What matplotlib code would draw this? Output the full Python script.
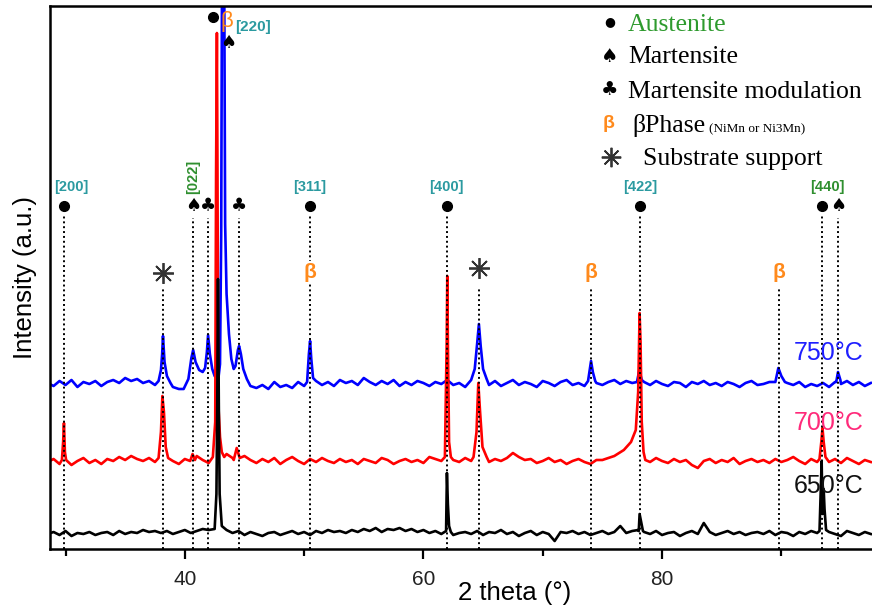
import numpy as np
import matplotlib
matplotlib.use("Agg")
import matplotlib.pyplot as plt
from matplotlib.ticker import MultipleLocator

# background of each scan, 0.5 deg grid, counts above its own baseline
two_theta_bg = np.arange(28.5, 97.51, 0.5)
bg_750 = [1, -2, 3, -1, 4, -3, 2, 0, 3, -2,
          2, 4, 1, 6, 3, 5, 1, 3, -1, 2,
          0, -3, -5, -7, -2, 5, 10, 12, 14, 18,
          20, 15, 12, 6, -2, -4, -1, -5, 2, -3,
          -1, -4, 2, -2, 1, 3, -1, 2, -2, 4,
          1, 3, -1, 6, 2, -1, 3, 0, 4, -2,
          2, -1, 3, 1, -2, 2, 0, 4, -1, 1,
          -3, 2, 8, 4, -1, 3, -2, 1, 4, -1,
          2, 0, -3, 3, 1, -2, 2, 4, -1, 1,
          -2, 3, 1, -1, 2, 4, 0, 3, 1, 5,
          2, -1, 3, 0, -2, 2, 1, -3, 2, 0,
          3, -1, 1, -2, 2, 0, -3, 1, 3, -1,
          0, 2, -2, 3, 1, -1, 2, -3, 0, -2,
          1, -3, 2, 0, 3, -1, 2, -2, 1]
bg_700 = [0, 3, -2, 2, -3, 1, 4, -1, 2, -2,
          3, 1, 5, 2, 6, 3, 1, 4, 0, 8,
          4, 1, -2, 3, 0, 6, 2, -1, 3, 5,
          8, 4, 1, 6, 2, -1, 3, 0, 4, -2,
          2, 5, 1, -2, 3, 0, 4, 1, -1, 3,
          0, 2, -2, 3, 1, -1, 4, 2, -2, 1,
          3, 0, 2, -1, 5, 3, 1, -2, 2, 0,
          4, 1, 6, 2, 0, 3, 1, 4, 9, 5,
          2, 3, -1, 1, 4, 0, 2, -2, 1, 3,
          0, -2, 2, 1, -1, 3, 5, 8, 14, 20,
          3, 0, 4, 1, -1, 3, 0, 2, -3, -6,
          1, 3, -1, 2, 0, 4, -2, 1, 3, 0,
          2, -1, 3, 0, 2, 5, 1, -2, 3, 0,
          2, 0, 3, -1, 4, 1, -2, 2, 0]
bg_650 = [0, 2, -1, 3, -2, 1, 0, 2, -1, 1,
          2, -1, 3, 0, 2, 1, 4, 2, 3, 1,
          3, 0, 2, 4, 1, 3, 5, 4, 6, 8,
          4, 1, 3, -1, 2, 0, -2, 1, 2, -1,
          1, 3, 0, 2, -1, 3, 1, 4, 2, 3,
          1, 4, 2, 5, 3, 6, 2, 5, 4, 6,
          3, 5, 2, 4, 1, 3, 0, 2, -1, 1,
          2, 0, 3, -1, 2, 1, 4, 0, 2, -2,
          1, 3, -1, 2, 0, -7, 2, 1, 3, 0,
          2, -1, 1, 3, 0, 2, 8, 1, 3, 4,
          2, 0, 3, -1, 1, 2, -2, 1, 3, 0,
          11, 2, -1, 1, 3, 0, 2, -1, 1, 2,
          0, 3, -1, 2, 1, -2, 2, 0, 3, 1,
          -1, 2, 0, -2, 3, 1, -1, 2, 0]

# peak profiles: (2theta points, counts above baseline)
peaks_750 = [
    ([37.8, 38.0, 38.1, 38.17, 38.3, 38.5, 38.8], [3, 14, 30, 48, 22, 8, 1]),
    ([39.9, 40.3, 40.55, 40.7, 40.9, 41.2, 41.5], [-5, 5, 26, 34, 22, 14, 12]),
    ([41.7, 41.85, 41.95, 42.1, 42.3, 42.5, 42.8], [16, 32, 49, 30, 15, 8, 4]),
    ([42.95, 43.05, 43.12, 43.3, 43.38, 43.5, 43.7, 43.9, 44.1],
     [20, 150, 420, 420, 160, 90, 50, 25, 15]),
    ([44.25, 44.45, 44.55, 44.7, 44.9, 45.2, 45.5], [18, 34, 38, 30, 15, 5, -2]),
    ([50.25, 50.4, 50.5, 50.6, 50.75], [2, 30, 43, 25, 6]),
    ([64.0, 64.3, 64.5, 64.65, 64.8, 65.0, 65.3], [4, 15, 40, 60, 38, 15, 5]),
    ([73.8, 73.95, 74.05, 74.2, 74.4], [3, 15, 23, 12, 3]),
    ([77.9, 78.1, 78.3], [2, 14, 4]),
    ([89.5, 89.75, 90.0, 90.3], [2, 16, 8, 2]),
    ([94.6, 94.75, 94.95], [2, 12, 4]),
]
peaks_700 = [
    ([29.7, 29.8, 29.87, 29.95, 30.05], [2, 20, 39, 10, 2]),
    ([37.8, 38.0, 38.12, 38.25, 38.4, 38.6], [4, 30, 66, 50, 15, 4]),
    ([40.45, 40.65, 40.85], [1, 8, 2]),
    ([42.35, 42.55, 42.62, 42.69, 42.74, 42.8, 42.95, 43.1, 43.3],
     [5, 40, 288, 429, 288, 60, 25, 10, 5]),
    ([44.1, 44.35, 44.6], [2, 14, 4]),
    ([61.8, 61.95, 62.0, 62.06, 62.15, 62.3], [5, 120, 186, 110, 20, 5]),
    ([64.2, 64.45, 64.6, 64.75, 64.95, 65.3], [5, 30, 79, 50, 15, 5]),
    ([75.0, 76.0, 76.8, 77.4, 77.8, 78.0, 78.12, 78.2, 78.3, 78.45, 78.6],
     [2, 6, 12, 20, 32, 70, 149, 120, 40, 10, 2]),
    ([93.2, 93.35, 93.45, 93.55, 93.7], [3, 20, 34, 20, 5]),
]
peaks_650 = [
    ([42.5, 42.65, 42.72, 42.78, 42.85, 42.92, 43.1], [5, 40, 130, 255, 130, 40, 8]),
    ([61.9, 61.97, 62.05, 62.15, 62.3], [3, 61, 30, 8, 2]),
    ([78.05, 78.12, 78.25, 78.4], [3, 20, 12, 3]),
    ([93.2, 93.3, 93.38, 93.45, 93.55, 93.62, 93.75], [3, 40, 73, 20, 45, 25, 4]),
]

temps = ["750°C", "700°C", "650°C"]
offsets = [165, 87, 15]
line_colors = ["#0000ff", "#ff0000", "#000000"]
label_colors = ["#1f1fff", "#ff2a7a", "#111111"]

# reference lines: position, top of dotted line
ref_x = [29.9, 38.17, 40.69, 41.94, 44.54, 50.5, 61.98, 64.66, 74.05, 78.15, 89.8, 93.4, 94.75]
ref_top = [334, 262, 331, 331, 331, 334, 334, 262, 262, 334, 262, 334, 331]
austenite_x = [29.9, 50.5, 61.98, 78.15, 93.4]
martensite_x = [40.69, 94.75]
modulation_x = [41.94, 44.54]
substrate_x = [38.17, 64.66]
beta_x = [50.5, 74.05, 89.8]
hkl_labels = ["[200]", "[311]", "[400]", "[422]", "[440]"]
hkl_x = [30.45, 50.5, 61.9, 78.15, 93.9]
hkl_colors = ["#2b9aa0", "#2b9aa0", "#2b9aa0", "#2b9aa0", "#2f8f2f"]

TEAL = "#2b9aa0"
GREEN = "#2f8f2f"
ORANGE = "#ff8a1c"
SANS = "Liberation Sans"
SERIF = "Liberation Serif"


def build(bg, peaks):
    xs, ys = [], []
    for t, v in zip(two_theta_bg, bg):
        if not any(px[0] <= t <= px[-1] for px, _ in peaks):
            xs.append(t)
            ys.append(v)
    for px, py in peaks:
        xs += px
        ys += py
    order = np.argsort(xs)
    return np.array(xs)[order], np.array(ys, dtype=float)[order]


fig = plt.figure(figsize=(8.72, 6.14), dpi=100)
ax = fig.add_axes([50 / 872, 65 / 614, 822 / 872, 543 / 614])
ax.set_xlim(28.7, 97.6)
ax.set_ylim(0, 543)

for bg, pk, off, c in zip([bg_750, bg_700, bg_650], [peaks_750, peaks_700, peaks_650],
                          offsets, line_colors):
    x, y = build(bg, pk)
    ax.plot(x, y + off, color=c, lw=1.9, zorder=2)

for name, yb, c in zip(temps, [189, 119, 56], label_colors):
    ax.text(91.05, yb, name, color=c, fontsize=18, family=SANS, va="baseline", zorder=5)

# dotted guide lines
for xr, top in zip(ref_x, ref_top):
    ax.plot([xr, xr], [0, top], color="k", lw=1.4, ls=(0, (1, 1.5)), zorder=3)

ax.plot(austenite_x, [343] * len(austenite_x), "o", color="k", ms=7, zorder=4)
for xm in martensite_x:
    ax.text(xm, 343, "♠", fontsize=13, ha="center", va="center", family="DejaVu Sans", zorder=4)
for xm in modulation_x:
    ax.text(xm, 343, "♣", fontsize=13, ha="center", va="center", family="DejaVu Sans", zorder=4)
ax.plot(substrate_x, [276, 281], marker=(8, 2, 0), ls="none", color="#333333",
        ms=15, mew=1.3, zorder=4)
for xb in beta_x:
    ax.text(xb, 277, "β", color=ORANGE, fontsize=15, fontweight="bold", family=SANS,
            ha="center", va="center", zorder=4,
            bbox=dict(facecolor="white", edgecolor="none", pad=1))
for lab, xl, c in zip(hkl_labels, hkl_x, hkl_colors):
    ax.text(xl, 362, lab, color=c, fontsize=10.5, fontweight="bold", family=SANS,
            ha="center", va="center", zorder=4)
ax.text(40.69, 372, "[022]", color=GREEN, fontsize=10.5, fontweight="bold", family=SANS,
        ha="center", va="center", rotation=90, zorder=4)

# main (220) peak annotation
ax.plot([42.36], [532], "o", color="k", ms=7, zorder=4, clip_on=False)
ax.text(43.54, 528, "β", color=ORANGE, fontsize=16, family=SANS, ha="center", va="center", zorder=4)
ax.text(44.2, 522, "[220]", color=TEAL, fontsize=11, fontweight="bold", family=SANS,
        ha="left", va="center", zorder=4)
ax.text(43.62, 506, "♠", fontsize=13, ha="center", va="center", family="DejaVu Sans", zorder=4)


# phase key, placed in pixels
def px(x, y):
    return x / 872, 1 - y / 614


fig.text(*px(610, 22), "●", fontsize=9, ha="center", va="center", family="DejaVu Sans")
fig.text(*px(628, 31), "Austenite", fontsize=18.5, color="#2e9a2e", family=SERIF, va="baseline")
fig.text(*px(610, 56), "♠", fontsize=14, ha="center", va="center", family="DejaVu Sans")
fig.text(*px(628, 63), "Martensite", fontsize=18.5, family=SERIF, va="baseline")
fig.text(*px(610, 90), "♣", fontsize=14, ha="center", va="center", family="DejaVu Sans")
fig.text(*px(628, 98), "Martensite modulation", fontsize=18.5, family=SERIF, va="baseline")
fig.text(*px(609, 124), "β", fontsize=14, color=ORANGE, fontweight="bold", family=SANS,
         ha="center", va="center")
fig.text(*px(632, 132), "βPhase", fontsize=18.5, family=SERIF, va="baseline")
fig.text(*px(709, 132), "(NiMn or Ni3Mn)", fontsize=9.5, family=SERIF, va="baseline")
fig.add_artist(plt.Line2D([611 / 872], [1 - 157 / 614], marker=(8, 2, 0), color="#333333",
                          ms=14, mew=1.3, transform=fig.transFigure))
fig.text(*px(643, 165), "Substrate support", fontsize=18.5, family=SERIF, va="baseline")

# axes styling
ax.xaxis.set_major_locator(MultipleLocator(20))
ax.xaxis.set_minor_locator(MultipleLocator(10))
ax.set_yticks([])
ax.tick_params(axis="x", which="major", length=7, width=1.6, pad=8, labelsize=15,
               labelcolor="#222222")
ax.tick_params(axis="x", which="minor", length=5, width=1.6)
for lab in ax.get_xticklabels():
    lab.set_family(SANS)
for side in ["top", "left", "bottom"]:
    ax.spines[side].set_linewidth(1.8)
ax.spines["right"].set_visible(False)

ax.text(0.5657, -0.081, "2 theta (°)", transform=ax.transAxes, fontsize=18.5, family=SANS,
        ha="center", va="center")
ax.text(-25 / 822, 0.5, "Intensity (a.u.)", transform=ax.transAxes, fontsize=18.5,
        family=SANS, ha="center", va="center", rotation=90)

fig.savefig("out.png", dpi=100)
